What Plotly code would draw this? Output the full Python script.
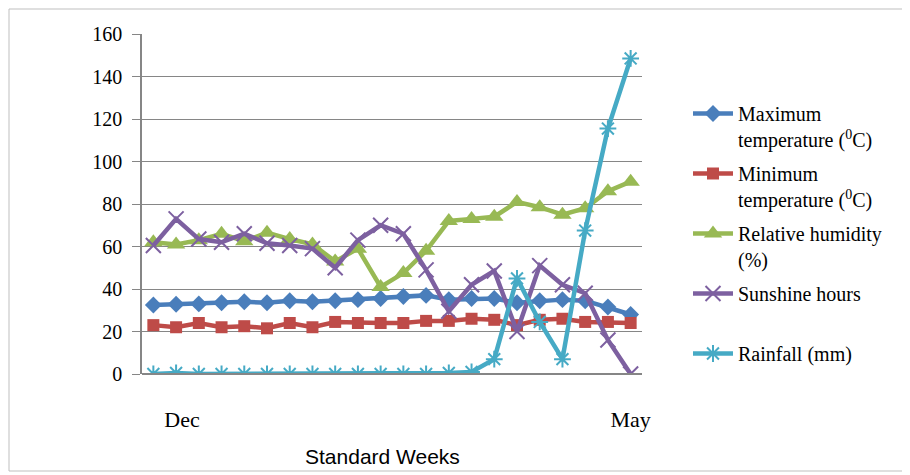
import plotly.graph_objects as go

weeks = list(range(22))
tick_positions = [1.26, 21]
tick_labels = ["Dec", "May"]

max_temp = [32.5, 32.8, 33, 33.5, 34, 33.5, 34.5, 34, 34.5, 35, 35.5, 36.5, 37, 35, 35.5, 35.5, 33.5, 34.5, 35, 34.5, 31.5, 28]
min_temp = [23, 22, 24, 22, 22.5, 21.5, 24, 22, 24.5, 24, 24, 24, 25, 25, 26, 25.5, 23, 25.5, 26, 24.5, 24.5, 24]
rel_humidity = [62, 61, 63, 66, 62.5, 66.5, 63.5, 61, 53, 59, 41, 47.5, 58, 72, 73, 74, 81, 78.5, 75, 78, 86, 90.5]
sunshine = [60.5, 73, 63.5, 62, 66, 61.5, 60.5, 59, 50, 63, 70, 66, 49, 29.5, 42, 48.5, 20, 51, 42, 38, 16, 0]
rainfall = [0, 0.5, 0, 0, 0, 0, 0, 0, 0, 0, 0, 0, 0, 0.5, 1, 7, 45, 24.5, 7, 67.5, 115.5, 148.5]

names = [
    "Maximum<br>temperature (<sup>0</sup>C)",
    "Minimum<br>temperature (<sup>0</sup>C)",
    "Relative humidity<br>(%)",
    "Sunshine hours<br> ",
    "Rainfall (mm)",
]
colors = ["#4A7EBB", "#BE4B48", "#98B954", "#7D60A0", "#46AAC5"]
SERIF = "Liberation Serif"

fig = go.Figure()

fig.add_trace(go.Scatter(x=weeks, y=max_temp, name=names[0], legendgroup="a", mode="lines+markers",
                         line=dict(color=colors[0], width=4.5),
                         marker=dict(symbol="diamond", size=13, color=colors[0])))
fig.add_trace(go.Scatter(x=weeks, y=min_temp, name=names[1], legendgroup="b", mode="lines+markers",
                         line=dict(color=colors[1], width=4.5),
                         marker=dict(symbol="square", size=12, color=colors[1])))
fig.add_trace(go.Scatter(x=weeks, y=rel_humidity, name=names[2], legendgroup="c", mode="lines+markers",
                         line=dict(color=colors[2], width=4.5),
                         marker=dict(symbol="triangle-up", size=16, color=colors[2])))
fig.add_trace(go.Scatter(x=weeks, y=sunshine, name=names[3], legendgroup="d", mode="lines+markers",
                         line=dict(color=colors[3], width=4.5),
                         marker=dict(symbol="x-thin-open", size=15, color=colors[3],
                                     line=dict(width=2, color=colors[3]))))
fig.add_trace(go.Scatter(x=weeks, y=rainfall, name=names[4], legendgroup="e", mode="lines+markers",
                         line=dict(color=colors[4], width=4.5),
                         marker=dict(symbol="asterisk-open", size=14, color=colors[4],
                                     line=dict(width=2, color=colors[4]))))

# page offset of the plot div inside the browser window
OFF = 8
W, H = 910 - OFF, 475 - OFF
L, R, T, B = 142 - OFF, 642 - OFF, 34 - OFF, 374 - OFF

def px_x(p):
    return (p - OFF - L) / (R - L)

def px_y(p):
    return (B - (p - OFF)) / (B - T)

fig.update_layout(
    width=W, height=H,
    margin=dict(l=L, r=W - R, t=T, b=H - B),
    paper_bgcolor="white", plot_bgcolor="white",
    font=dict(family=SERIF, color="black", size=20),
    showlegend=True,
    legend=dict(x=px_x(688), y=px_y(94), xanchor="left", yanchor="top",
                font=dict(family=SERIF, size=20, color="black"),
                valign="top", bgcolor="rgba(0,0,0,0)", itemwidth=40,
                tracegroupgap=5),
    xaxis=dict(range=[-0.5, 21.5], tickmode="array", tickvals=tick_positions, ticktext=tick_labels,
               showgrid=False, zeroline=False, showline=False, ticks="",
               tickfont=dict(family=SERIF, size=22, color="black"),
               ticklabelstandoff=30),
    yaxis=dict(range=[0, 160], tickmode="array", tickvals=[0, 20, 40, 60, 80, 100, 120, 140, 160],
               showgrid=True, gridcolor="#868686", gridwidth=1.3, zeroline=False,
               showline=True, linecolor="#868686", linewidth=1.5,
               ticks="outside", ticklen=8, tickcolor="#868686",
               tickfont=dict(family=SERIF, size=20, color="black"),
               ticklabelstandoff=6),
    shapes=[
        dict(type="line", xref="paper", yref="paper", x0=0, x1=1, y0=0, y1=0,
             line=dict(color="#868686", width=2)),
        dict(type="rect", xref="paper", yref="paper",
             x0=px_x(9), x1=px_x(906), y0=px_y(9), y1=px_y(471),
             line=dict(color="#BFBFBF", width=1)),
    ],
    annotations=[
        dict(text="Standard Weeks", xref="paper", yref="paper", x=px_x(382), y=px_y(456),
             xanchor="center", yanchor="middle", showarrow=False,
             font=dict(family="Liberation Sans", size=21, color="black")),
    ],
)

fig.write_html("out.html")
